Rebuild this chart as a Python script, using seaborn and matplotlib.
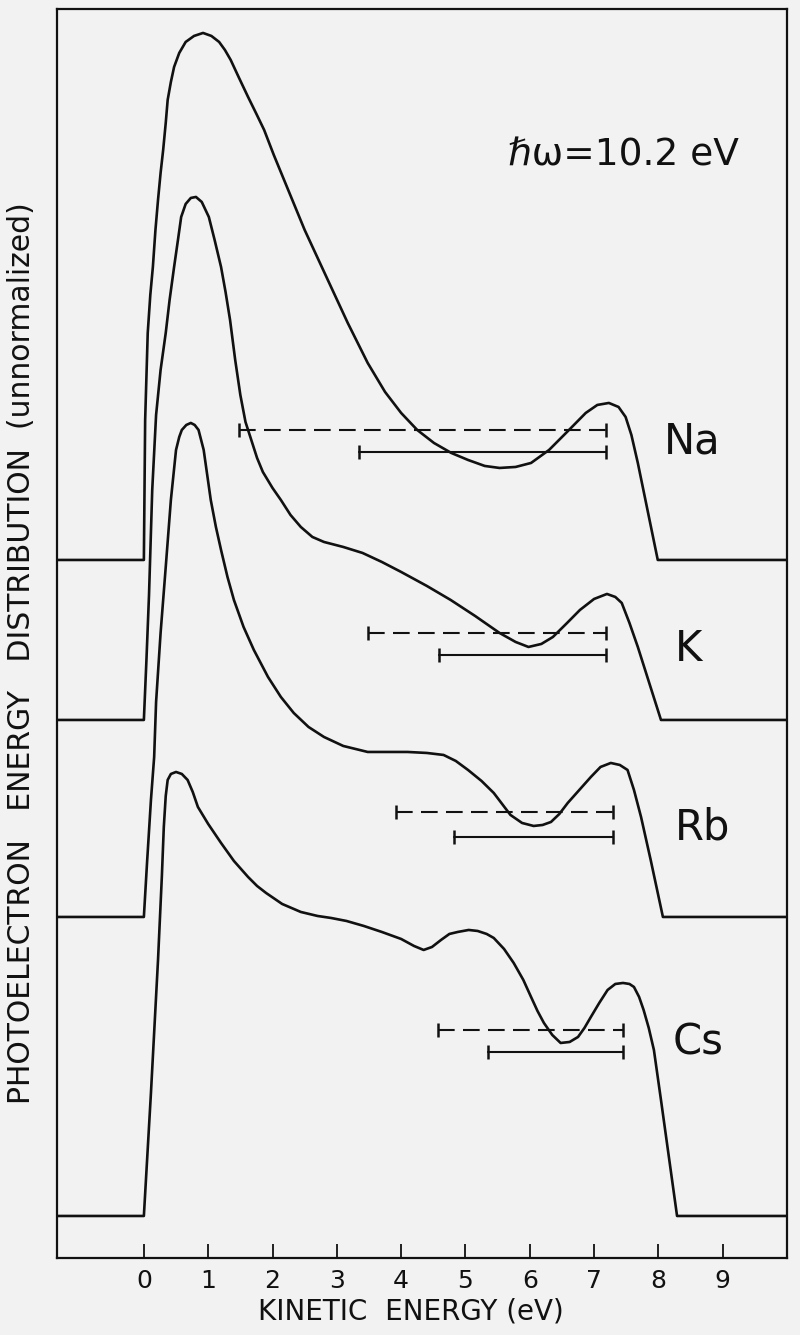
import matplotlib
matplotlib.use("Agg")
import matplotlib.pyplot as plt
import numpy as np
import pandas as pd
import seaborn as sns

# Energy axis in eV, distribution heights above each curve's own baseline (arb. units)
na_energy = [-1.35, 0.00, 0.02, 0.06, 0.10, 0.14, 0.18, 0.22, 0.26, 0.30, 0.34, 0.37, 0.42,
             0.47, 0.55, 0.65, 0.78, 0.92, 1.05, 1.17, 1.26, 1.35, 1.48, 1.62, 1.75, 1.87,
             2.02, 2.18, 2.50, 2.86, 3.17, 3.48, 3.75, 4.00, 4.25, 4.51, 4.78, 5.04, 5.30,
             5.53, 5.78, 6.02, 6.30, 6.61, 6.87, 7.05, 7.23, 7.38, 7.49, 7.58, 7.68, 7.99,
             10.0]
na_dist = [0, 0, 140, 227, 265, 293, 330, 360, 387, 410, 437, 460, 478,
           493, 507, 518, 524, 527, 524, 518, 510, 500, 482, 463, 446, 430,
           405, 380, 330, 280, 237, 197, 168, 147, 130, 117, 107, 100, 94,
           92, 93, 97, 110, 130, 147, 155, 157, 153, 143, 125, 97, 0,
           0]

k_energy = [-1.35, 0.00, 0.04, 0.08, 0.13, 0.19, 0.26, 0.34, 0.40, 0.47, 0.53, 0.58, 0.65,
            0.73, 0.81, 0.90, 1.01, 1.10, 1.20, 1.27, 1.34, 1.42, 1.50, 1.58, 1.67, 1.76,
            1.85, 2.00, 2.13, 2.28, 2.44, 2.62, 2.80, 3.10, 3.40, 3.70, 4.00, 4.40, 4.77,
            5.15, 5.53, 5.78, 5.98, 6.18, 6.36, 6.58, 6.78, 7.00, 7.20, 7.33, 7.43, 7.55,
            7.68, 8.04, 10.0]
k_dist = [0, 0, 60, 125, 230, 305, 350, 387, 420, 453, 480, 503, 516,
          522, 523, 518, 503, 480, 453, 428, 400, 360, 325, 298, 280, 262,
          248, 232, 220, 205, 193, 183, 178, 173, 167, 158, 148, 134, 120,
          104, 87, 78, 73, 76, 83, 97, 110, 121, 126, 123, 117, 97,
          73, 0, 0]

rb_energy = [-1.35, 0.00, 0.05, 0.11, 0.16, 0.19, 0.26, 0.34, 0.42, 0.50, 0.55, 0.59, 0.66,
             0.73, 0.79, 0.85, 0.93, 1.04, 1.12, 1.20, 1.30, 1.40, 1.55, 1.71, 1.93, 2.13,
             2.33, 2.56, 2.80, 3.10, 3.48, 3.80, 4.10, 4.40, 4.66, 4.85, 5.04, 5.25, 5.44,
             5.57, 5.70, 5.88, 6.06, 6.20, 6.33, 6.46, 6.59, 6.77, 6.95, 7.10, 7.26, 7.40,
             7.52, 7.62, 7.73, 7.88, 8.07, 10.0]
rb_dist = [0, 0, 55, 117, 160, 215, 284, 350, 417, 467, 480, 487, 492,
           494, 492, 487, 467, 417, 390, 367, 340, 317, 290, 267, 240, 220,
           204, 190, 180, 171, 165, 165, 165, 164, 162, 156, 147, 136, 124,
           113, 102, 94, 91, 92, 95, 103, 114, 127, 140, 150, 154, 152,
           147, 127, 100, 57, 0, 0]

cs_energy = [-1.35, 0.00, 0.11, 0.22, 0.28, 0.31, 0.34, 0.37, 0.42, 0.50, 0.59, 0.68, 0.76,
             0.84, 1.00, 1.20, 1.40, 1.62, 1.76, 1.90, 2.15, 2.44, 2.70, 2.91, 3.15, 3.42,
             3.70, 4.00, 4.20, 4.35, 4.48, 4.62, 4.75, 4.88, 5.05, 5.19, 5.33, 5.44, 5.60,
             5.75, 5.90, 6.02, 6.12, 6.22, 6.35, 6.48, 6.62, 6.75, 6.85, 6.95, 7.08, 7.21,
             7.33, 7.45, 7.55, 7.62, 7.70, 7.77, 7.85, 7.93, 8.04, 8.29, 10.0]
cs_dist = [0, 0, 123, 256, 340, 389, 420, 436, 442, 444, 442, 436, 424,
           409, 392, 373, 355, 339, 330, 323, 312, 304, 300, 298, 295, 290,
           284, 277, 270, 266, 269, 276, 282, 284, 286, 285, 282, 278, 267,
           253, 236, 219, 205, 193, 181, 173, 174, 179, 188, 199, 213, 226,
           232, 233, 232, 229, 219, 206, 188, 166, 116, 0, 0]

metals = ["Na", "K", "Rb", "Cs"]
baselines = [698, 538, 341, 42]

# energy ranges marked under each curve (dashed and solid bars), common upper end
dashed_lo = [1.48, 3.48, 3.92, 4.57]
solid_lo = [3.34, 4.59, 4.82, 5.35]
bar_hi = [7.18, 7.18, 7.29, 7.45]
dashed_h = [130, 87, 105, 186]
solid_h = [108, 65, 80, 164]

x_ticks = [0, 1, 2, 3, 4, 5, 6, 7, 8, 9]

curves = [(na_energy, na_dist), (k_energy, k_dist), (rb_energy, rb_dist), (cs_energy, cs_dist)]
frames = []
for name, base, (e, d) in zip(metals, baselines, curves):
    frames.append(pd.DataFrame({"energy": e, "dist": np.array(d) + base, "metal": name}))
df = pd.concat(frames, ignore_index=True)

sns.set_theme(style="white")
plt.rcParams["font.family"] = ["DejaVu Sans"]

fig = plt.figure(figsize=(8, 13.35), dpi=100)
fig.patch.set_facecolor("#f2f2f2")
ax = fig.add_axes([0.0713, 0.0577, 0.9125, 0.9356])
ax.set_facecolor("#f2f2f2")

ink = "#111111"
sns.lineplot(data=df, x="energy", y="dist", units="metal", estimator=None, sort=False,
             color=ink, linewidth=1.9, ax=ax)

for base, dl, sl, hi, dh, sh in zip(baselines, dashed_lo, solid_lo, bar_hi, dashed_h, solid_h):
    ax.plot([dl, hi], [base + dh, base + dh], color=ink, lw=1.5, ls=(0, (8, 4)))
    ax.plot([dl, hi], [base + dh, base + dh], color=ink, lw=0, marker="|", ms=9.5, mew=1.8)
    ax.plot([sl, hi], [base + sh, base + sh], color=ink, lw=1.5)
    ax.plot([sl, hi], [base + sh, base + sh], color=ink, lw=0, marker="|", ms=9.5, mew=1.8)

label_pos = [(8.52, 816), (8.47, 609), (8.69, 430), (8.61, 215)]
for name, (lx, ly) in zip(metals, label_pos):
    ax.text(lx, ly, name, fontsize=30, ha="center", va="center", color=ink)

ax.text(7.45, 1102, "ℏω=10.2 eV", fontsize=27, ha="center", va="center", color=ink)

ax.set_xlim(-1.35, 10.0)
ax.set_ylim(0, 1249)
ax.set_xticks(x_ticks)
ax.set_xticklabels([str(t) for t in x_ticks])
ax.set_yticks([])
ax.tick_params(axis="x", direction="in", length=10, width=1.3, color=ink,
               labelsize=18, pad=8, labelcolor=ink, bottom=True)
for s in ax.spines.values():
    s.set_visible(True)
    s.set_color(ink)
    s.set_linewidth(1.6)

ax.set_xlabel("KINETIC  ENERGY (eV)", fontsize=20, color=ink)
ax.xaxis.set_label_coords(0.485, -0.0432)
ax.xaxis.label.set_va("center")
ax.set_ylabel("PHOTOELECTRON   ENERGY   DISTRIBUTION  (unnormalized)", fontsize=21.5, color=ink)
ax.yaxis.set_label_coords(-0.048, 0.484)
ax.yaxis.label.set_va("center")

fig.savefig("out.png", dpi=100, facecolor=fig.get_facecolor())
